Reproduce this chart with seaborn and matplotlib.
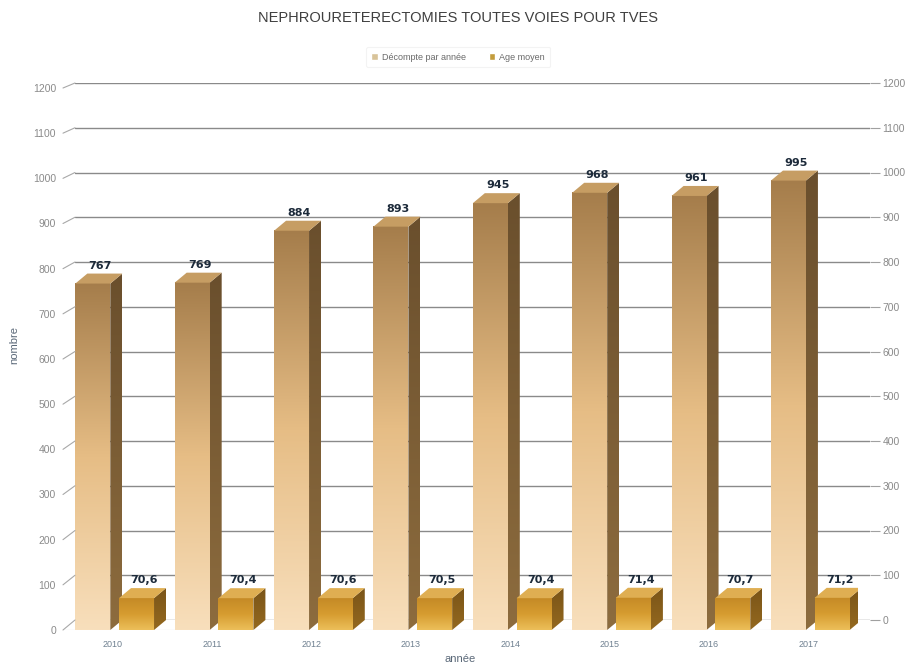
import numpy as np
import pandas as pd
import seaborn as sns
import matplotlib.pyplot as plt
from matplotlib.lines import Line2D
from matplotlib.patches import Polygon
from matplotlib.colors import LinearSegmentedColormap

# Data
annees = ['2010', '2011', '2012', '2013', '2014', '2015', '2016', '2017']
decompte = [767, 769, 884, 893, 945, 968, 961, 995]
age_moyen = [70.6, 70.4, 70.6, 70.5, 70.4, 71.4, 70.7, 71.2]
series = ['Décompte par année', 'Age moyen']
yticks = list(range(0, 1300, 100))

df = pd.DataFrame({
    'année': annees * 2,
    'valeur': decompte + age_moyen,
    'série': [series[0]] * len(annees) + [series[1]] * len(annees),
})

sns.set_style('white')
plt.rcParams['font.family'] = ['Liberation Sans', 'DejaVu Sans']

W, H = 916, 664
left, right, bottom, top = 63, 858, 34, 576   # plot area in pixels
DX, DY = 12, 10                               # 3D depth in pixels
SHRINK = 5                                    # back wall a bit smaller (perspective)

fig = plt.figure(figsize=(W / 100, H / 100), dpi=100)

# back wall: grid lines + right axis
back = fig.add_axes([(left + DX) / W, (bottom + DY) / H, (right - left) / W, (top - bottom - SHRINK) / H])
back.set_facecolor('none')
back.set_ylim(0, 1200)
back.set_xlim(0, 1)
back.set_yticks(yticks)
back.set_xticks([])
back.yaxis.grid(True, color='#8a8a8a', lw=1)
back.yaxis.tick_right()
back.tick_params(axis='y', length=7, color='#a0a0a0', labelsize=7.5, labelcolor='#8a8a8a', pad=2)
for s in back.spines.values():
    s.set_visible(False)

# front: bars
ax = fig.add_axes([left / W, bottom / H, (right - left) / W, (top - bottom) / H])
ax.set_facecolor('none')
sns.barplot(data=df, x='année', y='valeur', hue='série', palette=['#e2c78f', '#d9a626'],
            width=0.88, gap=0.2, ax=ax)
ax.set_xlim(-0.5, len(annees) - 0.5)
ax.set_ylim(0, 1200)
xlim, ylim = ax.get_xlim(), ax.get_ylim()

dx = DX / (right - left) * (xlim[1] - xlim[0])
dy = DY / (top - bottom) * (ylim[1] - ylim[0])

styles = {
    series[0]: dict(front=['#f8dfbc', '#e6bd85', '#a57d4b'], side=['#8d6c3e', '#6a4f2d'], top='#c69d63'),
    series[1]: dict(front=['#ecbf5a', '#d69c30', '#c58a26'], side=['#94691f', '#7a5418'], top='#dfae52'),
}

grad = np.linspace(0, 1, 256).reshape(-1, 1)
bars = [p for p in ax.patches if p.get_height() > 0]
n = len(annees)
for i, p in enumerate(bars):
    st = styles[series[i // n]]
    x0, w, h = p.get_x() + 0.02, p.get_width(), p.get_height()
    x1 = x0 + w
    z = 3 + x0 * 0.01
    cm_front = LinearSegmentedColormap.from_list('f', st['front'])
    cm_side = LinearSegmentedColormap.from_list('s', st['side'])
    # front face
    ax.imshow(grad, extent=[x0, x1, 0, h], origin='lower', cmap=cm_front,
              aspect='auto', zorder=z)
    # side face
    side = Polygon([(x1, 0), (x1 + dx, dy), (x1 + dx, h + dy), (x1, h)],
                   closed=True, facecolor='none', edgecolor='none', zorder=z)
    ax.add_patch(side)
    im = ax.imshow(grad, extent=[x1, x1 + dx, 0, h + dy], origin='lower', cmap=cm_side,
                   aspect='auto', zorder=z)
    im.set_clip_path(side)
    # top face
    ax.add_patch(Polygon([(x0, h), (x0 + dx, h + dy), (x1 + dx, h + dy), (x1, h)],
                         closed=True, facecolor=st['top'], edgecolor='none', zorder=z))
    p.set_visible(False)
    lab = f'{h:.1f}'.replace('.', ',') if i >= n else f'{h:.0f}'
    ax.annotate(lab, (x0 + w / 2 + dx / 2, h + dy), xytext=(1, 2), textcoords='offset points',
                ha='center', va='bottom', fontsize=8, fontweight='bold', color='#1c2a3a',
                family='DejaVu Sans', zorder=10)

ax.set_xlim(xlim)
ax.set_ylim(ylim)

# floor front edge
ax.axhline(0, color='#c8c8c8', lw=0.8, zorder=2)

# diagonal left ticks joining the front axis to the back wall grid
for t in yticks:
    y_front = (bottom + t / 1200 * (top - bottom)) / H
    y_back = (bottom + DY + t / 1200 * (top - bottom - SHRINK)) / H
    fig.add_artist(Line2D([left / W, (left + DX) / W], [y_front, y_back],
                          transform=fig.transFigure, color='#a8a8a8', lw=0.8))

ax.set_yticks(yticks)
ax.tick_params(axis='y', length=0, labelsize=7.5, labelcolor='#8a8a8a', pad=5)
ax.tick_params(axis='x', length=0, labelsize=6.5, labelcolor='#6f8090', pad=7)
for s in ax.spines.values():
    s.set_visible(False)

ax.set_xlabel('année', fontsize=8, color='#5a6878', labelpad=4)
ax.set_ylabel('nombre', fontsize=8, color='#5a6878')
ax.yaxis.set_label_coords(-0.055, 0.526)

sns.move_legend(ax, loc='center', bbox_to_anchor=(0.497, 1.057), ncol=2, title=None,
                frameon=True, fontsize=6.5, handlelength=0.7, handleheight=0.7,
                columnspacing=2.5, handletextpad=0.5, borderpad=0.6)
leg = ax.get_legend()
leg.get_frame().set_edgecolor('#f0f0f0')
leg.get_frame().set_linewidth(0.8)
for t in leg.get_texts():
    t.set_color('#6a6a6a')

fig.suptitle('NEPHROURETERECTOMIES TOUTES VOIES POUR TVES', y=1 - 18 / H, va='center',
             fontsize=10.5, color='#3f3f3f')

fig.savefig('out.png', dpi=100)
